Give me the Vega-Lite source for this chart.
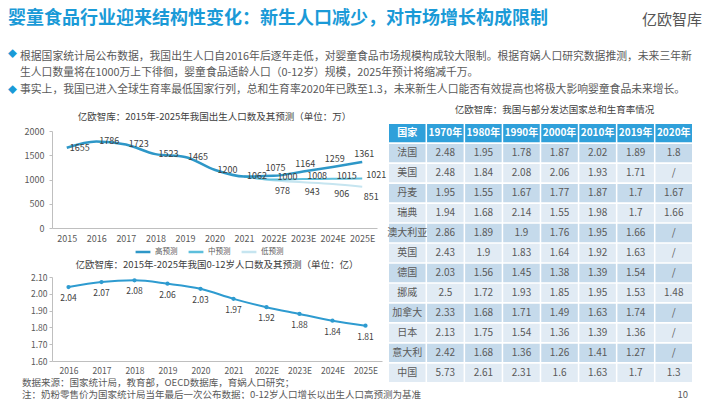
{
  "$schema": "https://vega.github.io/schema/vega-lite/v6.json",
  "background": "white",
  "padding": {"left": 8, "top": 9, "right": 4, "bottom": 0},
  "config": {
    "font": "Noto Sans CJK SC",
    "view": {"stroke": null},
    "title": {"font": "Noto Sans CJK SC", "subtitleFont": "Noto Sans CJK SC", "fontWeight": "normal"},
    "axis": {"labelFont": "Noto Sans CJK SC", "titleFont": "Noto Sans CJK SC", "labelColor": "#595959", "domainColor": "#bfbfbf", "tickColor": "#bfbfbf", "grid": false},
    "legend": {"labelFont": "Noto Sans CJK SC"},
    "text": {"font": "Noto Sans CJK SC"}
  },
  "datasets": {
    "blank": [{}],
    "births": [
      {"year": "2015", "series": "高预测", "value": 1655},
      {"year": "2016", "series": "高预测", "value": 1786},
      {"year": "2017", "series": "高预测", "value": 1723},
      {"year": "2018", "series": "高预测", "value": 1523},
      {"year": "2019", "series": "高预测", "value": 1465},
      {"year": "2020", "series": "高预测", "value": 1200},
      {"year": "2021", "series": "高预测", "value": 1062},
      {"year": "2022E", "series": "高预测", "value": 1075},
      {"year": "2023E", "series": "高预测", "value": 1164},
      {"year": "2024E", "series": "高预测", "value": 1259},
      {"year": "2025E", "series": "高预测", "value": 1361},
      {"year": "2021", "series": "中预测", "value": 1062},
      {"year": "2022E", "series": "中预测", "value": 1000},
      {"year": "2023E", "series": "中预测", "value": 1008},
      {"year": "2024E", "series": "中预测", "value": 1015},
      {"year": "2025E", "series": "中预测", "value": 1021},
      {"year": "2021", "series": "低预测", "value": 1062},
      {"year": "2022E", "series": "低预测", "value": 978},
      {"year": "2023E", "series": "低预测", "value": 943},
      {"year": "2024E", "series": "低预测", "value": 906},
      {"year": "2025E", "series": "低预测", "value": 851}
    ],
    "kids": [
      {"year": "2016", "value": 2.04},
      {"year": "2017", "value": 2.07},
      {"year": "2018", "value": 2.08},
      {"year": "2019", "value": 2.06},
      {"year": "2020", "value": 2.03},
      {"year": "2021", "value": 1.97},
      {"year": "2022E", "value": 1.92},
      {"year": "2023E", "value": 1.88},
      {"year": "2024E", "value": 1.84},
      {"year": "2025E", "value": 1.81}
    ],
    "header": [
      {"col": "国家"}, {"col": "1970年"}, {"col": "1980年"}, {"col": "1990年"},
      {"col": "2000年"}, {"col": "2010年"}, {"col": "2019年"}, {"col": "2020年"}
    ],
    "fert": [
      {"country": "法国", "1970年": "2.48", "1980年": "1.95", "1990年": "1.78", "2000年": "1.87", "2010年": "2.02", "2019年": "1.89", "2020年": "1.8"},
      {"country": "美国", "1970年": "2.48", "1980年": "1.84", "1990年": "2.08", "2000年": "2.06", "2010年": "1.93", "2019年": "1.71", "2020年": "/"},
      {"country": "丹麦", "1970年": "1.95", "1980年": "1.55", "1990年": "1.67", "2000年": "1.77", "2010年": "1.87", "2019年": "1.7", "2020年": "1.67"},
      {"country": "瑞典", "1970年": "1.94", "1980年": "1.68", "1990年": "2.14", "2000年": "1.55", "2010年": "1.98", "2019年": "1.7", "2020年": "1.66"},
      {"country": "澳大利亚", "1970年": "2.86", "1980年": "1.89", "1990年": "1.9", "2000年": "1.76", "2010年": "1.95", "2019年": "1.66", "2020年": "/"},
      {"country": "英国", "1970年": "2.43", "1980年": "1.9", "1990年": "1.83", "2000年": "1.64", "2010年": "1.92", "2019年": "1.63", "2020年": "/"},
      {"country": "德国", "1970年": "2.03", "1980年": "1.56", "1990年": "1.45", "2000年": "1.38", "2010年": "1.39", "2019年": "1.54", "2020年": "/"},
      {"country": "挪威", "1970年": "2.5", "1980年": "1.72", "1990年": "1.93", "2000年": "1.85", "2010年": "1.95", "2019年": "1.53", "2020年": "1.48"},
      {"country": "加拿大", "1970年": "2.33", "1980年": "1.68", "1990年": "1.71", "2000年": "1.49", "2010年": "1.63", "2019年": "1.74", "2020年": "/"},
      {"country": "日本", "1970年": "2.13", "1980年": "1.75", "1990年": "1.54", "2000年": "1.36", "2010年": "1.39", "2019年": "1.36", "2020年": "/"},
      {"country": "意大利", "1970年": "2.42", "1980年": "1.68", "1990年": "1.36", "2000年": "1.26", "2010年": "1.41", "2019年": "1.27", "2020年": "/"},
      {"country": "中国", "1970年": "5.73", "1980年": "2.61", "1990年": "2.31", "2000年": "1.6", "2010年": "1.63", "2019年": "1.7", "2020年": "1.3"}
    ]
  },
  "spacing": -2,
  "align": "each",
  "vconcat": [
    {
      "spacing": 0,
      "align": "each",
      "hconcat": [
        {"width": 560, "height": 1, "data": {"name": "blank"}, "mark": {"type": "text", "text": ""},
         "title": {"text": "婴童食品行业迎来结构性变化：新生人口减少，对市场增长构成限制", "anchor": "start", "fontSize": 18, "fontWeight": "bold", "color": "#1a9ad7", "offset": 12, "dx": -44}},
        {"width": 90, "height": 1, "data": {"name": "blank"}, "mark": {"type": "text", "text": ""},
         "title": {"text": "亿欧智库", "anchor": "end", "fontSize": 15, "color": "#555555", "offset": 12}}
      ]
    },
    {
      "spacing": -44,
      "align": "none",
      "hconcat": [
        {"width": 12, "height": 1, "data": {"name": "blank"}, "mark": {"type": "text", "text": ""},
         "title": {"text": ["◆"], "subtitle": "◆", "anchor": "start", "fontSize": 9, "color": "#1a9ad7", "lineHeight": 16, "subtitleFontSize": 9, "subtitleColor": "#1a9ad7", "subtitleLineHeight": 16, "subtitlePadding": 27, "offset": 0, "dx": -44}},
        {"width": 626, "height": 1, "data": {"name": "blank"}, "mark": {"type": "text", "text": ""},
         "title": {"text": ["根据国家统计局公布数据，我国出生人口自2016年后逐年走低，对婴童食品市场规模构成较大限制。根据育娲人口研究数据推测，未来三年新", "生人口数量将在1000万上下徘徊，婴童食品适龄人口（0-12岁）规模，2025年预计将缩减千万。"],
                   "subtitle": "事实上，我国已进入全球生育率最低国家行列，总和生育率2020年已跌至1.3，未来新生人口能否有效提高也将极大影响婴童食品未来增长。",
                   "anchor": "start", "fontSize": 10.8, "color": "#595959", "lineHeight": 16, "subtitleFontSize": 10.8, "subtitleColor": "#595959", "subtitleLineHeight": 16, "subtitlePadding": 6, "offset": 0}}
      ]
    },
    {
      "spacing": -16,
      "align": "none",
      "vconcat": [
        {
          "spacing": 0,
          "align": "each",
          "hconcat": [
            {
              "spacing": 16,
              "align": "each",
              "vconcat": [
                {
                  "width": 325, "height": 104,
                  "data": {"name": "births"},
                  "title": {"text": "亿欧智库：2015年-2025年我国出生人口数及其预测（单位：万）", "fontSize": 9.5, "color": "#404040", "offset": 3, "anchor": "middle"},
                  "encoding": {
                    "x": {"field": "year", "type": "ordinal",
                          "scale": {"type": "point", "padding": 0.5, "domain": ["2015","2016","2017","2018","2019","2020","2021","2022E","2023E","2024E","2025E"]},
                          "axis": {"title": null, "labelFontSize": 9, "labelAngle": 0, "ticks": false, "tickSize": 0, "labelPadding": 6}},
                    "y": {"field": "value", "type": "quantitative", "scale": {"domain": [0, 2000], "nice": false, "range": [104, 7]},
                          "axis": {"title": null, "values": [0, 500, 1000, 1500, 2000], "format": "d", "labelFontSize": 9, "tickSize": 3, "labelPadding": 5, "minExtent": 44}}
                  },
                  "layer": [
                    {"transform": [{"filter": "datum.series == '低预测'"}],
                     "mark": {"type": "line", "interpolate": "monotone", "strokeWidth": 2},
                     "encoding": {"color": {"field": "series", "type": "nominal",
                       "scale": {"domain": ["高预测", "中预测", "低预测"], "range": ["#2e97c7", "#5dbfdc", "#c6e5f0"]},
                       "legend": {"orient": "none", "legendX": 82, "legendY": 198, "direction": "horizontal", "title": null, "symbolType": "stroke", "symbolStrokeWidth": 2.5, "symbolSize": 220, "labelFontSize": 7.5, "labelColor": "#595959", "columnPadding": 5, "padding": 0, "labelOffset": 3}}}},
                    {"transform": [{"filter": "datum.series == '中预测'"}],
                     "mark": {"type": "line", "interpolate": "monotone", "strokeWidth": 2},
                     "encoding": {"color": {"field": "series", "type": "nominal",
                       "scale": {"domain": ["高预测", "中预测", "低预测"], "range": ["#2e97c7", "#5dbfdc", "#c6e5f0"]},
                       "legend": {"orient": "none", "legendX": 82, "legendY": 198, "direction": "horizontal", "title": null, "symbolType": "stroke", "symbolStrokeWidth": 2.5, "symbolSize": 220, "labelFontSize": 7.5, "labelColor": "#595959", "columnPadding": 5, "padding": 0, "labelOffset": 3}}}},
                    {"transform": [{"filter": "datum.series == '高预测'"}],
                     "mark": {"type": "line", "interpolate": "monotone", "strokeWidth": 2.5},
                     "encoding": {"color": {"field": "series", "type": "nominal",
                       "scale": {"domain": ["高预测", "中预测", "低预测"], "range": ["#2e97c7", "#5dbfdc", "#c6e5f0"]},
                       "legend": {"orient": "none", "legendX": 82, "legendY": 198, "direction": "horizontal", "title": null, "symbolType": "stroke", "symbolStrokeWidth": 2.5, "symbolSize": 220, "labelFontSize": 7.5, "labelColor": "#595959", "columnPadding": 5, "padding": 0, "labelOffset": 3}}}},
                    {"transform": [{"filter": "datum.series == '高预测' && indexof(datum.year, 'E') < 0"}],
                     "mark": {"type": "text", "align": "left", "dx": 3, "baseline": "middle", "fontSize": 9, "color": "#404040"},
                     "encoding": {"text": {"field": "value", "type": "quantitative", "format": "d"}}},
                    {"transform": [{"filter": "datum.series == '高预测' && indexof(datum.year, 'E') >= 0"}],
                     "mark": {"type": "text", "align": "center", "dx": 2, "dy": -8, "baseline": "middle", "fontSize": 9, "color": "#404040"},
                     "encoding": {"text": {"field": "value", "type": "quantitative", "format": "d"}}},
                    {"transform": [{"filter": "datum.series == '中预测' && datum.year != '2021'"}],
                     "mark": {"type": "text", "align": "left", "dx": 4, "dy": -3, "baseline": "middle", "fontSize": 9, "color": "#404040"},
                     "encoding": {"text": {"field": "value", "type": "quantitative", "format": "d"}}},
                    {"transform": [{"filter": "datum.series == '低预测' && datum.year != '2021'"}],
                     "mark": {"type": "text", "align": "center", "dx": 9, "dy": 10, "baseline": "middle", "fontSize": 9, "color": "#404040"},
                     "encoding": {"text": {"field": "value", "type": "quantitative", "format": "d"}}}
                  ]
                },
                {
                  "width": 330, "height": 84,
                  "data": {"name": "kids"},
                  "title": {"text": "亿欧智库：2015年-2025年我国0-12岁人口数及其预测（单位：亿）", "fontSize": 9.5, "color": "#404040", "offset": 4, "anchor": "middle"},
                  "encoding": {
                    "x": {"field": "year", "type": "ordinal",
                          "scale": {"type": "point", "padding": 0.5, "domain": ["2016","2017","2018","2019","2020","2021","2022E","2023E","2024E","2025E"]},
                          "axis": {"title": null, "labelFontSize": 8.5, "labelAngle": 0, "ticks": false, "tickSize": 0, "labelPadding": 5}},
                    "y": {"field": "value", "type": "quantitative", "scale": {"domain": [1.6, 2.1], "nice": false, "zero": false},
                          "axis": {"title": null, "values": [1.6, 1.7, 1.8, 1.9, 2.0, 2.1], "format": ".2f", "labelFontSize": 8.5, "tickSize": 3, "labelPadding": 2, "minExtent": 44}}
                  },
                  "layer": [
                    {"mark": {"type": "line", "interpolate": "monotone", "color": "#2e9bd0", "strokeWidth": 2,
                              "point": {"filled": true, "size": 18, "color": "#2e9bd0"}}},
                    {"mark": {"type": "text", "dy": 11, "baseline": "middle", "fontSize": 8.5, "color": "#404040"},
                     "encoding": {"text": {"field": "value", "type": "quantitative", "format": ".2f"}}}
                  ]
                }
              ]
            },
            {
              "width": 303, "height": 258,
              "title": {"text": "亿欧智库：我国与部分发达国家总和生育率情况", "fontSize": 9.5, "color": "#404040", "offset": 10, "dx": 14},
              "layer": [
                {"data": {"name": "header"},
                 "mark": {"type": "rect", "color": "#2fa0da"},
                 "encoding": {
                   "x": {"field": "col", "type": "nominal", "scale": {"domain": ["国家","1970年","1980年","1990年","2000年","2010年","2019年","2020年"], "paddingInner": 0.04, "paddingOuter": 0}, "axis": null},
                   "y": {"datum": "header", "type": "nominal", "scale": {"domain": ["header","法国","美国","丹麦","瑞典","澳大利亚","英国","德国","挪威","加拿大","日本","意大利","中国"], "paddingInner": 0.08, "paddingOuter": 0}, "axis": null}}},
                {"data": {"name": "header"},
                 "mark": {"type": "text", "color": "#ffffff", "fontWeight": "bold", "fontSize": 10},
                 "encoding": {
                   "x": {"field": "col", "type": "nominal", "scale": {"domain": ["国家","1970年","1980年","1990年","2000年","2010年","2019年","2020年"], "paddingInner": 0.04, "paddingOuter": 0}, "axis": null},
                   "y": {"datum": "header", "type": "nominal", "scale": {"domain": ["header","法国","美国","丹麦","瑞典","澳大利亚","英国","德国","挪威","加拿大","日本","意大利","中国"], "paddingInner": 0.08, "paddingOuter": 0}, "axis": null},
                   "text": {"field": "col"}}},
                {"data": {"name": "fert"},
                 "mark": {"type": "rect"},
                 "encoding": {
                   "x": {"datum": "国家", "type": "nominal", "scale": {"domain": ["国家","1970年","1980年","1990年","2000年","2010年","2019年","2020年"], "paddingInner": 0.04, "paddingOuter": 0}, "axis": null},
                   "y": {"field": "country", "type": "nominal", "scale": {"domain": ["header","法国","美国","丹麦","瑞典","澳大利亚","英国","德国","挪威","加拿大","日本","意大利","中国"], "paddingInner": 0.08, "paddingOuter": 0}, "axis": null},
                   "fill": {"condition": {"test": "indexof(['法国','丹麦','澳大利亚','德国','加拿大','意大利'], datum.country) >= 0", "value": "#c5daeb"}, "value": "#e1ebf4"}}},
                {"data": {"name": "fert"},
                 "mark": {"type": "text", "fontSize": 10, "color": "#595959"},
                 "encoding": {
                   "x": {"datum": "国家", "type": "nominal", "scale": {"domain": ["国家","1970年","1980年","1990年","2000年","2010年","2019年","2020年"], "paddingInner": 0.04, "paddingOuter": 0}, "axis": null},
                   "y": {"field": "country", "type": "nominal", "scale": {"domain": ["header","法国","美国","丹麦","瑞典","澳大利亚","英国","德国","挪威","加拿大","日本","意大利","中国"], "paddingInner": 0.08, "paddingOuter": 0}, "axis": null},
                   "text": {"field": "country"}}},
                {"data": {"name": "fert"},
                 "transform": [{"fold": ["1970年","1980年","1990年","2000年","2010年","2019年","2020年"], "as": ["col", "rate"]}],
                 "mark": {"type": "rect"},
                 "encoding": {
                   "x": {"field": "col", "type": "nominal", "scale": {"domain": ["国家","1970年","1980年","1990年","2000年","2010年","2019年","2020年"], "paddingInner": 0.04, "paddingOuter": 0}, "axis": null},
                   "y": {"field": "country", "type": "nominal", "scale": {"domain": ["header","法国","美国","丹麦","瑞典","澳大利亚","英国","德国","挪威","加拿大","日本","意大利","中国"], "paddingInner": 0.08, "paddingOuter": 0}, "axis": null},
                   "fill": {"condition": {"test": "indexof(['法国','丹麦','澳大利亚','德国','加拿大','意大利'], datum.country) >= 0", "value": "#c5daeb"}, "value": "#e1ebf4"}}},
                {"data": {"name": "fert"},
                 "transform": [{"fold": ["1970年","1980年","1990年","2000年","2010年","2019年","2020年"], "as": ["col", "rate"]}],
                 "mark": {"type": "text", "fontSize": 10, "color": "#595959"},
                 "encoding": {
                   "x": {"field": "col", "type": "nominal", "scale": {"domain": ["国家","1970年","1980年","1990年","2000年","2010年","2019年","2020年"], "paddingInner": 0.04, "paddingOuter": 0}, "axis": null},
                   "y": {"field": "country", "type": "nominal", "scale": {"domain": ["header","法国","美国","丹麦","瑞典","澳大利亚","英国","德国","挪威","加拿大","日本","意大利","中国"], "paddingInner": 0.08, "paddingOuter": 0}, "axis": null},
                   "text": {"field": "rate"}}}
              ]
            }
          ]
        },
        {
          "spacing": 0,
          "align": "each",
          "hconcat": [
            {"width": 560, "height": 1, "data": {"name": "blank"}, "mark": {"type": "text", "text": ""},
             "title": {"text": ["数据来源：国家统计局，教育部，OECD数据库，育娲人口研究；", "注：奶粉零售价为国家统计局当年最后一次公布数据；0-12岁人口增长以出生人口高预测为基准"], "orient": "bottom", "anchor": "start", "fontSize": 9.5, "color": "#595959", "lineHeight": 12, "offset": 0, "dx": -30}},
            {"width": 76, "height": 1, "data": {"name": "blank"}, "mark": {"type": "text", "text": ""},
             "title": {"text": "10", "orient": "bottom", "anchor": "end", "fontSize": 9.5, "color": "#595959", "offset": 12}}
          ]
        }
      ]
    }
  ]
}
